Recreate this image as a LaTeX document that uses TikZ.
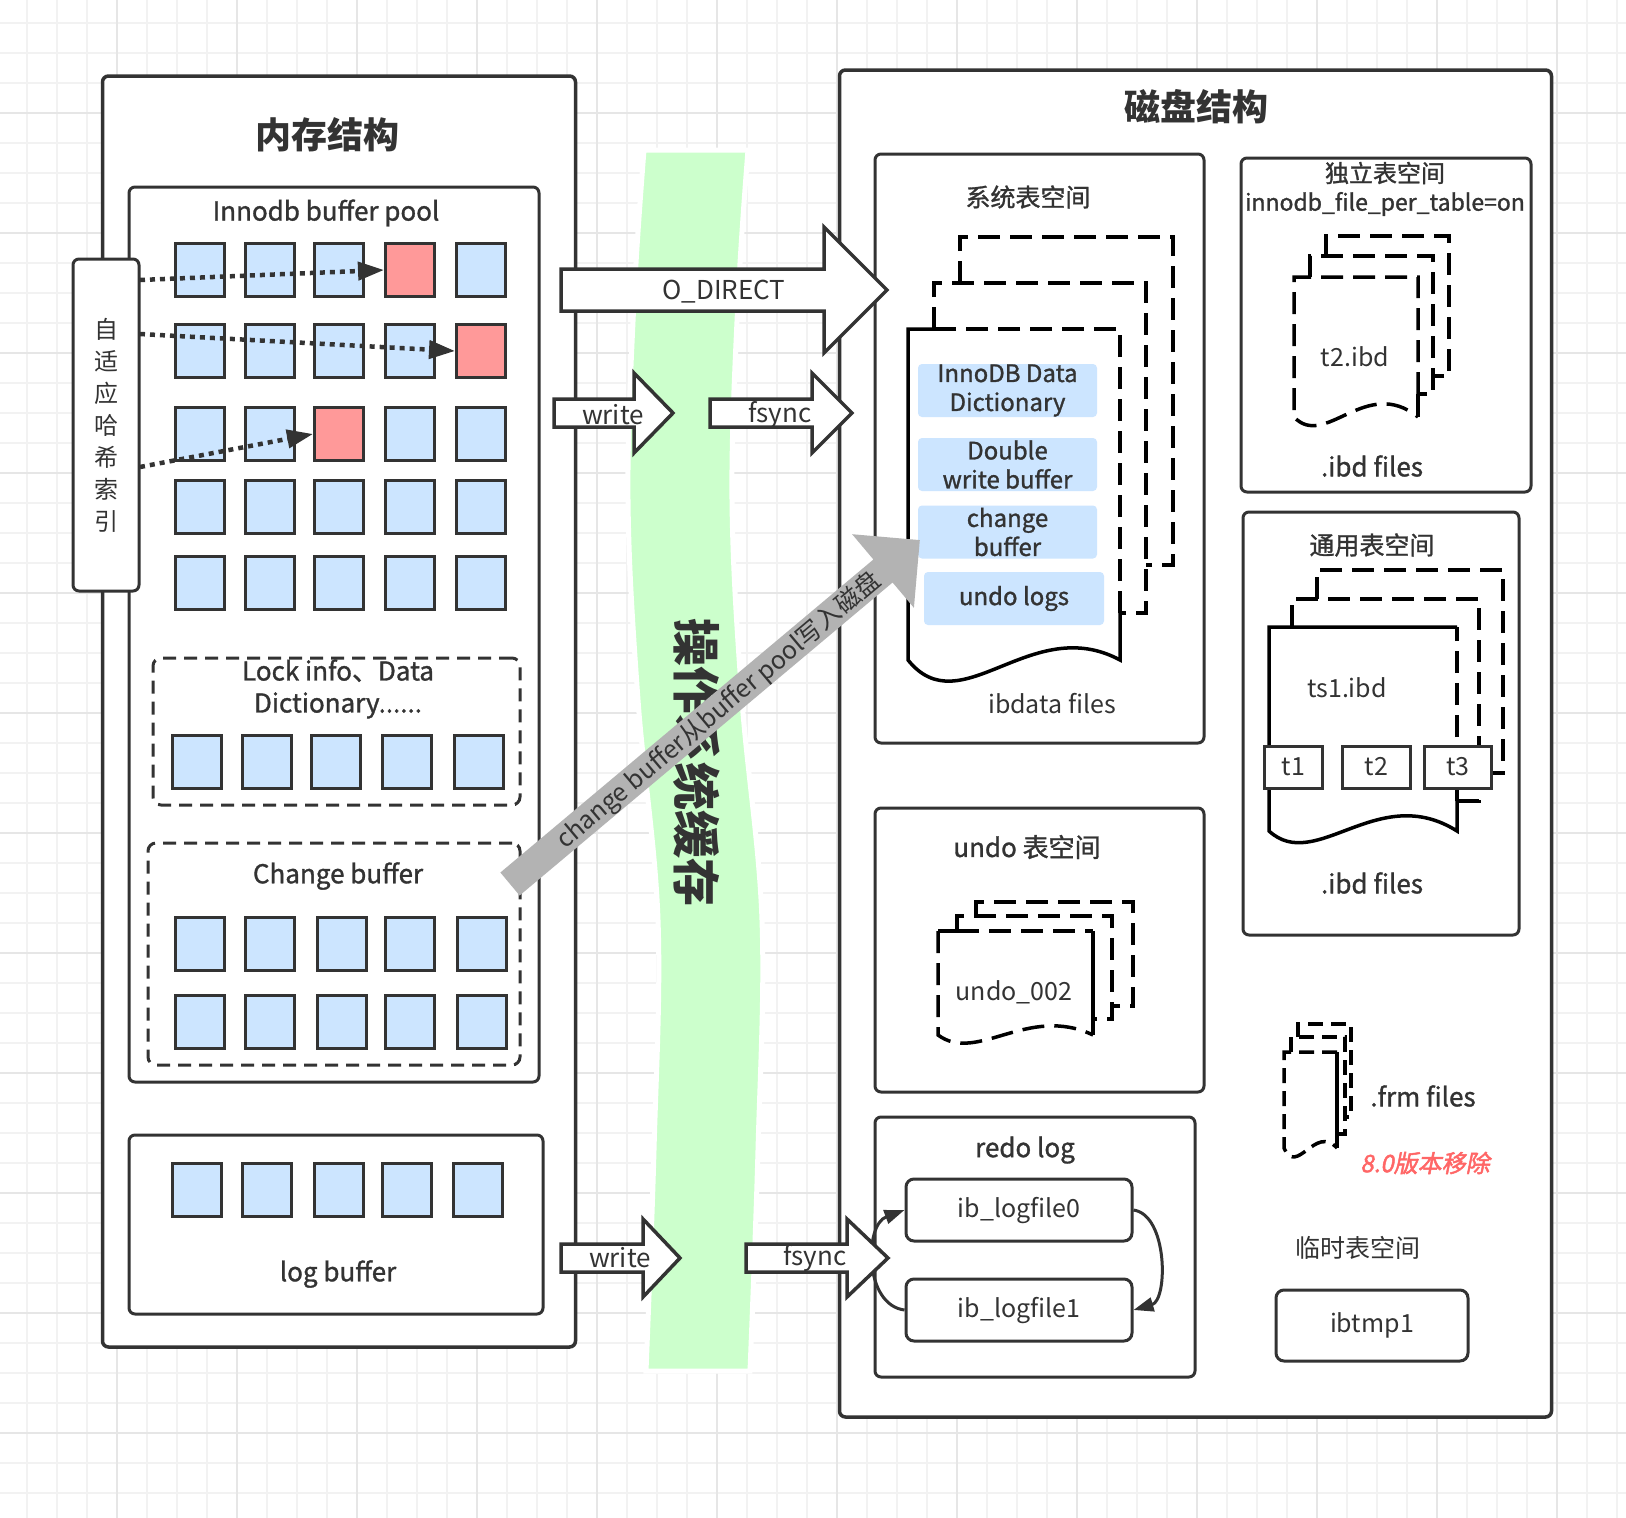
\documentclass[tikz,border=0pt]{standalone}
\usepackage{fontspec}
\setmainfont{Noto Sans CJK SC}
\newfontfamily\medf[FakeBold=1.2]{Noto Sans CJK SC}
\newfontfamily\redf[FakeSlant=0.2,FakeBold=2]{Noto Sans CJK SC}
\usetikzlibrary{arrows.meta}
\definecolor{dk}{HTML}{333333}
\definecolor{sqblue}{HTML}{CCE5FF}
\definecolor{sqred}{HTML}{FF9999}
\definecolor{bandg}{HTML}{CCFFCC}
\definecolor{gridl}{HTML}{F2F2F2}
\definecolor{gridd}{HTML}{E6E6E6}
\definecolor{arrg}{HTML}{B3B3B3}
\definecolor{redt}{HTML}{FF6666}
\newcommand\fs[2]{\fontsize{#1}{#2}\selectfont}
\newcommand\blkarrow[6]{%
  \draw[blk] ({#1},{#4-#5}) -- ({#2},{#4-#5}) -- ({#2},{#4-#6}) -- ({#3},{#4}) -- ({#2},{#4+#6}) -- ({#2},{#4+#5}) -- ({#1},{#4+#5}) -- cycle;}
\tikzset{
  bigbox/.style={draw=dk, line width=3.5pt, rounded corners=6pt, fill=white, inner sep=0pt},
  box/.style={draw=dk, line width=3pt, rounded corners=6pt, fill=white, inner sep=0pt},
  dbox/.style={draw=dk, line width=3pt, rounded corners=8pt, dash pattern=on 13pt off 8pt, inner sep=0pt},
  sq/.style={draw=dk, line width=3pt, fill=sqblue, minimum width=49pt, minimum height=53pt, inner sep=0pt},
  sqr/.style={sq, fill=sqred},
  bluebox/.style={fill=sqblue, rounded corners=4pt, minimum width=179pt, minimum height=53pt, inner sep=0pt, align=center, text=dk, font={\medf\fs{24}{29}}},
  tbox/.style={draw=dk, line width=3pt, fill=white, minimum width=58pt, minimum height=42pt, inner sep=0pt, text=dk, font={\fs{25}{28}}},
  lbox/.style={draw=dk, line width=3pt, rounded corners=8pt, fill=white, inner sep=0pt, text=dk, font={\fs{25}{28}}},
  tt/.style={text=dk, inner sep=0pt, font={\fs{25}{28}}},
  mt/.style={text=dk, inner sep=0pt, font={\medf\fs{26}{32}}, align=center},
  title/.style={text=dk, inner sep=0pt, font={\bfseries\fs{36}{40}}},
  pg/.style={draw=black, line width=3.5pt, dash pattern=on 22pt off 10pt},
  pgs/.style={draw=black, line width=3.5pt},
  pgf/.style={draw=black, line width=3.5pt, dash pattern=on 15pt off 8pt},
  dots/.style={draw=dk, line width=4.5pt, dash pattern=on 5pt off 5pt, -{Triangle[length=26pt,width=18pt]}},
  blk/.style={draw=dk, fill=white, line width=3.5pt, line join=miter},
  curv/.style={draw=dk, line width=3pt, -{Triangle[length=20pt,width=14pt]}},
}
\begin{document}
\begin{tikzpicture}[x=1pt,y=-1pt]
\useasboundingbox (0,0) rectangle (1626,1518);
\fill[white] (0,0) rectangle (1626,1518);
% grid
\foreach \x in {27,57,...,1617} \draw[gridl, line width=1.5pt] (\x,0) -- (\x,1518);
\foreach \y in {23,53,...,1513} \draw[gridl, line width=1.5pt] (0,\y) -- (1626,\y);
\foreach \x in {117,237,...,1557} \draw[gridd, line width=2pt] (\x,0) -- (\x,1518);
\foreach \y in {113,233,...,1433} \draw[gridd, line width=2pt] (0,\y) -- (1626,\y);
% green band
\fill[bandg, draw=white, line width=5pt]
  plot[smooth, tension=0.6] coordinates {(644,150) (634,300) (628,500) (638,700) (658,920) (654,1150) (646,1371)}
  -- plot[smooth, tension=0.6] coordinates {(750,1371) (758,1150) (762,920) (742,700) (732,500) (738,300) (748,150)}
  -- cycle;
\node[rotate=-90, text=dk, inner sep=0pt, font={\bfseries\fs{48}{48}}] (oscache) at (697,762) {操作系统缓存};

% ===== memory structure =====
\node[bigbox, minimum width=473pt, minimum height=1271pt] (mem) at (339,711.5) {};
\node[title] (memt) at (327,135) {内存结构};
\node[box, minimum width=410pt, minimum height=895pt] (pool) at (334,634.5) {};
\node[mt, font={\medf\fs{26}{32}}] (poolt) at (326,213) {Innodb buffer pool};
\foreach \r/\y/\sa/\sb/\sc/\sd/\se in {1/270/sq/sq/sq/sqr/sq, 2/351/sq/sq/sq/sq/sqr, 3/434/sq/sq/sqr/sq/sq, 4/507/sq/sq/sq/sq/sq, 5/583/sq/sq/sq/sq/sq} {
  \node[\sa] (b-\r-1) at (200,\y) {};
  \node[\sb] (b-\r-2) at (270,\y) {};
  \node[\sc] (b-\r-3) at (339,\y) {};
  \node[\sd] (b-\r-4) at (410,\y) {};
  \node[\se] (b-\r-5) at (481,\y) {};
}
\node[dbox, minimum width=367pt, minimum height=147pt] (lock) at (336.5,731.5) {};
\node[mt] (lockt) at (338,689) {Lock info、Data\\Dictionary......};
\foreach \i/\x in {1/197,2/267,3/336,4/407,5/479} \node[sq] (l-\i) at (\x,762) {};
\node[dbox, minimum width=372pt, minimum height=222pt] (chg) at (334,954) {};
\node[mt] (chgt) at (338,876) {Change buffer};
\foreach \i/\x in {1/200,2/270,3/342,4/410,5/482} {
  \node[sq] (c-1-\i) at (\x,944) {};
  \node[sq] (c-2-\i) at (\x,1022) {};
}
\node[box, minimum width=414pt, minimum height=179pt] (logb) at (336,1224.5) {};
\node[mt] (logbt) at (338,1274) {log buffer};
\foreach \i/\x in {1/197,2/267,3/339,4/407,5/478} \node[sq] (g-\i) at (\x,1190) {};
% adaptive hash index
\node[box, minimum width=66pt, minimum height=332pt, align=center, text=dk, font={\fs{24}{32}}] (hash) at (106,425) {自\\适\\应\\哈\\希\\索\\引};
\coordinate (h1) at (140,280);
\coordinate (h2) at (140,334);
\coordinate (h3) at (140,467);
\draw[dots] (h1) -- (b-1-4.west);
\draw[dots] (h2) -- (b-2-5.west);
\draw[dots] (h3) -- (b-3-3.west);

% ===== disk structure =====
\node[bigbox, minimum width=712pt, minimum height=1347pt] (disk) at (1195.5,743.5) {};
\node[title] (diskt) at (1196,107) {磁盘结构};
% system tablespace
\node[box, minimum width=329pt, minimum height=589pt] (sys) at (1039.5,448.5) {};
\node[mt, font={\medf\fs{25}{28}}] (syst) at (1028,197) {系统表空间};
\draw[pg] (960,283) -- (960,237) -- (1173,237) -- (1173,565) -- (1146,565);
\draw[pg] (934,329) -- (934,283) -- (1146,283) -- (1146,613) -- (1120,613);
\draw[pgs] (934,329) -- (908,329) -- (908,660) .. controls (961,726) and (1031,612) .. (1120,660) -- (1120,613);
\draw[pg] (1120,613) -- (1120,329) -- (934,329);
\node[bluebox] (dd) at (1007.5,390.5) {InnoDB Data\\Dictionary};
\node[bluebox] (dw) at (1007.5,464.5) {Double\\write buffer};
\node[bluebox] (cb) at (1007.5,532) {change\\buffer};
\node[bluebox, minimum width=180pt] (ul) at (1014,598.5) {undo logs};
\node[tt] (ibd) at (1052,704) {ibdata files};
% file-per-table
\node[box, minimum width=290pt, minimum height=334pt] (fpt) at (1386,325) {};
\node[mt, font={\medf\fs{24}{28}}] (fptt) at (1385,173) {独立表空间};
\node[mt, font={\medf\fs{23}{28}}] (fpto) at (1385,204) {innodb\_file\_per\_table=on};
\draw[pg] (1326,256) -- (1326,236) -- (1449,236) -- (1449,376) -- (1433,376);
\draw[pg] (1310,277) -- (1310,256) -- (1433,256) -- (1433,394) -- (1418,394);
\draw[pg] (1418,394) -- (1418,277) -- (1294,277) -- (1294,417) .. controls (1325,450) and (1366,375) .. (1418,417);
\draw[pgs] (1418,417) -- (1418,394);
\node[tt] (t2ibd) at (1355,357) {t2.ibd};
\node[mt] (ibdf1) at (1372,466) {.ibd files};
% general tablespace
\node[box, minimum width=276pt, minimum height=423pt] (gen) at (1381,723.5) {};
\node[mt, font={\medf\fs{25}{28}}] (gent) at (1372,545) {通用表空间};
\draw[pg] (1317,599) -- (1317,570) -- (1503,570) -- (1503,773) -- (1493,773);
\draw[pg] (1292,627) -- (1292,599) -- (1479,599) -- (1479,801) -- (1457,801);
\draw[pgs] (1457,627) -- (1269,627) -- (1269,831) .. controls (1316,874) and (1378,781) .. (1457,831) -- (1457,801);
\draw[pg] (1457,801) -- (1457,627);
\node[tt] (ts1) at (1347,688) {ts1.ibd};
\node[tbox] (tb1) at (1293.5,767) {t1};
\node[tbox, minimum width=68pt] (tb2) at (1376.5,767) {t2};
\node[tbox, minimum width=67pt] (tb3) at (1458,767) {t3};
\node[mt] (ibdf2) at (1372,883) {.ibd files};
% undo tablespace
\node[box, minimum width=329pt, minimum height=284pt] (undo) at (1039.5,950) {};
\node[mt] (undot) at (1027,847) {undo 表空间};
\draw[pg] (976,916) -- (976,902) -- (1133,902) -- (1133,1006) -- (1112,1006);
\draw[pg] (957,931) -- (957,916) -- (1112,916) -- (1112,1019) -- (1093,1019);
\draw[pgs] (957,931) -- (938,931);
\draw[pg] (957,931) -- (1093,931);
\draw[pg] (938,931) -- (938,1035) .. controls (977,1064) and (1028,1004) .. (1093,1035);
\draw[pgs] (1093,931) -- (1093,1035);
\node[tt] (u002) at (1014,992) {undo\_002};
% redo log
\node[box, minimum width=320pt, minimum height=260pt] (redo) at (1035,1247) {};
\node[mt] (redot) at (1025,1150) {redo log};
\node[lbox, minimum width=226pt, minimum height=62pt] (log0) at (1019,1210) {ib\_logfile0};
\node[lbox, minimum width=226pt, minimum height=62pt] (log1) at (1019,1310) {ib\_logfile1};
\draw[curv] (log0.east) .. controls (1168,1215) and (1168,1300) .. (log1.east);
\draw[curv] (log1.west) .. controls (864,1305) and (864,1225) .. (log0.west);
% frm files
\draw[pgf] (1298,1037) -- (1298,1024) -- (1351,1024) -- (1351,1117) -- (1345,1117);
\draw[pgf] (1291,1052) -- (1291,1037) -- (1345,1037) -- (1345,1134) -- (1337,1134);
\draw[pgf] (1337,1052) -- (1284,1052) -- (1284,1148) .. controls (1297,1177) and (1315,1124) .. (1337,1148);
\draw[pgs] (1337,1148) -- (1337,1052);
\node[mt] (frm) at (1423,1096) {.frm files};
\node[text=redt, inner sep=0pt, font={\redf\fs{24}{28}}] (rm80) at (1425,1163) {8.0版本移除};
% temp tablespace
\node[tt] (tmpt) at (1358,1248) {临时表空间};
\node[lbox, minimum width=192pt, minimum height=71pt] (tmp1) at (1372,1325.5) {ibtmp1};

% ===== block arrows =====
\blkarrow{561}{824}{887}{290}{21}{63}
\node[tt, font={\fs{26}{28}}] (odir) at (724,292) {O\_DIRECT};
\blkarrow{554}{634}{673}{413}{14}{40}
\node[tt, font={\fs{26}{28}}] (w1) at (613,415) {write};
\blkarrow{710}{812}{852}{413}{14}{40}
\node[tt, font={\fs{26}{28}}] (f1) at (780,415) {fsync};
\blkarrow{561}{643}{680}{1258}{14}{39}
\node[tt, font={\fs{26}{28}}] (w2) at (620,1258) {write};
\blkarrow{746}{847}{888}{1258}{14}{39}
\node[tt, font={\fs{26}{28}}] (f2) at (815,1258) {fsync};

% ===== gray arrow =====
\fill[arrg] (500.4,872.5) -- (873.4,559.5) -- (852.1,534.2) -- (919.8,540.1) -- (913.9,607.8) -- (892.6,582.5) -- (519.6,895.5) -- cycle;
\node[rotate=40, text=dk, inner sep=0pt, font={\fs{25}{28}}] (cbt) at (719,711) {change buffer从buffer pool写入磁盘};
\end{tikzpicture}
\end{document}
